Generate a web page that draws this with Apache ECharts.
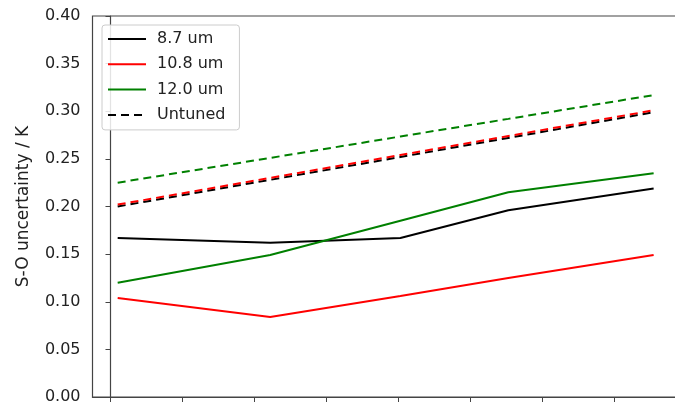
<!DOCTYPE html>
<html>
<head>
<meta charset="utf-8">
<script src="https://cdn.jsdelivr.net/npm/echarts@6/dist/echarts.min.js"></script>
<style>html,body{margin:0;padding:0;background:#fff}#c{width:675px;height:404px}</style>
</head>
<body>
<div id="c"></div>
<script>
// x positions (axis units; ticks at integers, labels off-picture)
const xValues = [0.10, 2.22, 4.03, 5.53, 7.55];
const xTicks = [0, 1, 2, 3, 4, 5, 6, 7];
const yTicks = [0, 0.05, 0.10, 0.15, 0.20, 0.25, 0.30, 0.35, 0.40];

const tuned87 = [0.167, 0.162, 0.167, 0.196, 0.219];
const tuned108 = [0.104, 0.084, 0.106, 0.125, 0.149];
const tuned120 = [0.120, 0.149, 0.185, 0.215, 0.235];
const untuned87 = [0.200, 0.228, 0.252, 0.272, 0.299];
const untuned108 = [0.202, 0.230, 0.254, 0.274, 0.301];
const untuned120 = [0.225, 0.251, 0.2735, 0.292, 0.317];

const seriesNames = ['8.7 um', '10.8 um', '12.0 um', 'Untuned'];

const pair = arr => xValues.map((x, i) => [x, arr[i]]);
const FONT = 'DejaVu Sans';

function line(name, data, color, dashed, z) {
  return {
    name: name, type: 'line', data: pair(data), symbol: 'none', z: z,
    lineStyle: { color: color, width: 2, type: dashed ? [8, 5] : 'solid' },
    itemStyle: { color: color },
    animation: false
  };
}

const chart = echarts.init(document.getElementById('c'), null, { renderer: 'canvas' });
chart.setOption({
  backgroundColor: '#fff',
  animation: false,
  grid: { left: 92.5, width: 593.5, top: 16, bottom: 7, show: true, borderColor: '#444', borderWidth: 1.2,
          containLabel: false, outerBoundsMode: 'none' },
  xAxis: {
    type: 'value', min: -0.25, max: 8,
    axisLine: { show: true, lineStyle: { color: '#444', width: 1.2 } },
    axisTick: { show: true, length: 5, inside: false, customValues: xTicks, lineStyle: { color: '#444', width: 1 } },
    axisLabel: { show: false },
    splitLine: { show: false }
  },
  yAxis: {
    type: 'value', min: 0, max: 0.4, interval: 0.05,
    name: 'S-O uncertainty / K', nameLocation: 'middle', nameGap: 60, nameRotate: 90,
    nameTextStyle: { fontFamily: FONT, fontSize: 17, color: '#222' },
    axisLine: { show: true, lineStyle: { color: '#444', width: 1.2 } },
    axisTick: { show: true, length: 5, lineStyle: { color: '#444', width: 1 } },
    axisLabel: { fontFamily: FONT, fontSize: 16, color: '#222', margin: 12, formatter: v => v.toFixed(2) },
    splitLine: { show: false }
  },
  legend: {
    data: seriesNames.map(n => ({ name: n })),
    orient: 'vertical', left: 102, top: 25,
    itemWidth: 38, itemHeight: 14, itemGap: 9.3,
    padding: [6, 14, 7, 5],
    borderColor: '#ccc', borderWidth: 1, borderRadius: 3,
    backgroundColor: 'rgba(255,255,255,0.85)',
    itemStyle: { opacity: 0, color: 'transparent', borderWidth: 0 },
    textStyle: { fontFamily: FONT, fontSize: 16, color: '#222', padding: [0, 0, 0, 6] }
  },
  series: [
    line('Untuned', untuned87, '#000000', true, 2),
    line('untuned 10.8', untuned108, '#ff0000', true, 3),
    line('untuned 12.0', untuned120, '#008000', true, 4),
    line('8.7 um', tuned87, '#000000', false, 5),
    line('10.8 um', tuned108, '#ff0000', false, 6),
    line('12.0 um', tuned120, '#008000', false, 7)
  ]
});
</script>
</body>
</html>
